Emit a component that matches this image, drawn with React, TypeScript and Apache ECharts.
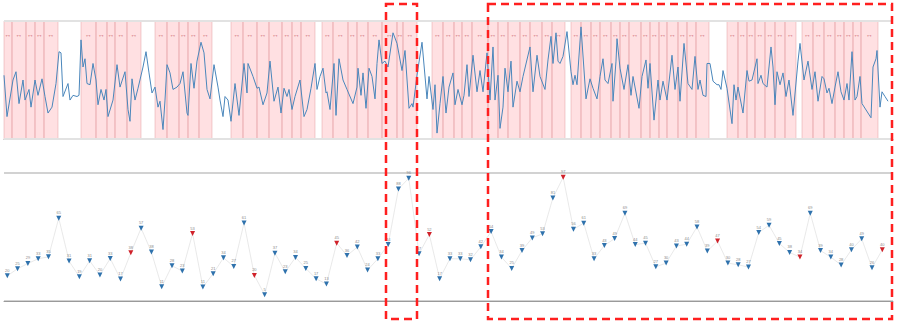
import React, { useEffect, useRef } from "react";
import * as echarts from "echarts";

// ---- top panel: signal (time index, value) ----
const topT = [
  0,3,9,12,15,19,21,25,27,31,34,38,41,44,48,52,55,57,59,64,66,69,73,75,77,79,81,83,86,89,
  92,94,97,100,102,104,109,113,116,121,124,126,128,131,134,139,142,145,148,151,154,156,159,161,163,166,169,173,176,179,
  183,184,187,190,193,197,200,203,206,210,214,216,219,221,224,227,231,235,240,243,244,249,253,255,259,263,266,270,274,277,
  280,283,285,288,291,
  296,300,303,307,311,313,316,319,322,323,326,330,332,335,339,343,349,353,354,357,359,362,365,368,371,373,375,378,381,384,
  389,393,398,401,405,408,409,413,418,423,425,429,431,433,436,439,442,445,449,451,454,458,460,463,465,469,473,476,479,483,
  486,489,491,494,496,499,501,504,507,509,513,516,519,526,529,533,536,541,544,547,549,552,554,556,559,563,567,569,571,573,
  577,582,586,589,593,
  596,599,601,604,608,609,612,613,616,620,624,627,629,635,638,642,644,646,650,654,656,659,663,668,671,674,676,680,684,688,
  691,694,696,699,702,703,706,709,713,715,717,719,723,728,730,732,734,739,743,745,748,753,754,757,759,763,767,769,771,773,
  776,779,782,785,789,794,796,800,804,808,811,814,818,820,823,825,828,831,834,837,840,843,845,848,851,853,856,858,867,869,
  872,873,876,878,881,884,
];
const topV = [
  54,19,50,57,30,50,33,42,27,50,37,51,36,22,27,47,74,73,36,47,33,37,36,37,84,61,68,47,46,64,
  50,29,42,33,42,19,33,63,44,57,25,15,51,33,43,61,74,56,39,44,27,32,8,33,63,56,42,44,47,57,
  22,20,64,43,66,82,73,42,34,63,44,33,19,36,33,15,47,20,64,39,64,53,43,44,29,39,66,32,44,22,
  43,36,42,25,36,
  50,19,25,43,64,42,53,60,39,40,25,64,20,68,50,42,30,44,60,37,56,26,60,53,34,64,84,64,66,61,
  90,81,58,75,26,30,27,54,82,34,53,25,46,5,30,53,22,44,56,29,42,29,37,63,36,71,40,58,40,73,
  33,78,33,54,9,27,60,40,66,27,49,40,53,78,40,71,53,42,67,87,64,90,66,64,70,91,57,46,54,46,
  95,34,51,43,34,
  53,68,50,47,64,32,66,85,60,42,63,37,53,26,53,67,43,64,16,50,33,49,33,71,42,61,32,81,47,42,
  70,42,50,37,36,64,64,49,46,46,42,58,43,13,46,33,44,22,58,49,50,68,47,54,47,44,78,61,29,57,
  46,56,36,50,20,66,81,50,66,42,57,32,53,51,39,43,30,44,57,40,33,47,33,74,33,36,53,30,18,61,
  68,75,27,40,36,32,
];

// highlighted windows (start, end) in the same time index
const windows: number[][] = [
  [0,8],[8,22],[22,31],[31,40],[40,54],
  [77,92],[92,103],[103,111],[111,123],[123,137],
  [151,163],[163,175],[175,184],[184,195],[195,208],
  [227,239],[239,253],[253,265],[265,278],[278,288],[288,297],[297,311],
  [318,329],[329,344],[344,353],[353,364],[364,378],[378,393],[393,399],[399,413],
  [428,439],[439,450],[450,458],[458,468],[468,484],[484,494],[494,504],[504,516],[516,526],[526,538],[538,548],[548,561],
  [567,577],[577,587],[587,596],[596,607],[607,616],[616,625],[625,637],[637,646],[646,655],[655,663],[663,674],[674,683],[683,692],[692,705],
  [723,734],[734,743],[743,751],[751,761],[761,771],[771,781],[781,792],
  [798,809],[809,820],[820,831],[831,840],[840,849],[849,857],[857,874],
];
const windowLabel = "↔";

// ---- bottom panel: per-window scores ----
const scores = [
  19.7,25.2,29.3,33.0,34.5,64.7,31.2,18.9,31.4,20.3,
  33.2,17.1,37.6,56.9,38.2,11.1,27.5,23.4,52.7,10.9,
  21.3,33.7,27.0,61.0,20.0,4.9,37.4,22.8,34.0,25.4,
  17.4,13.2,45.2,35.5,42.1,24.2,33.0,44.1,87.5,95.9,
  36.9,51.9,17.4,33.0,33.0,32.2,42.3,54.2,34.3,25.4,
  39.4,49.3,52.5,80.5,96.6,56.1,60.8,33.0,43.3,48.8,
  68.6,44.1,45.2,26.7,29.6,42.9,44.4,57.9,39.0,46.8,
  29.6,28.3,26.5,53.5,59.2,44.9,37.9,34.3,68.6,39.4,
  34.3,28.1,40.0,48.6,26.0,40.0,
];
const flagged = [12, 18, 24, 32, 41, 54, 69, 77, 85];

export default function App() {
  const ref = useRef<HTMLDivElement>(null);
  useEffect(() => {
    document.body.style.margin = "0";
    const chart = echarts.init(ref.current!, null, { renderer: "svg" });
    const lineData = topT.map((t, i) => [t, topV[i]]);
    const areaData = windows.map(([s, e]) => [{ xAxis: s }, { xAxis: e }]);
    const scoreData = scores.map((v, i) => ({
      value: [i, v],
      itemStyle: { color: flagged.includes(i) ? "#d0222a" : "#2f72ad" },
    }));
    chart.setOption({
      animation: false,
      grid: [
        { left: 4, right: 4, top: 21, bottom: 184 },
        { left: 4, right: 4, top: 173, bottom: 22 },
      ],
      xAxis: [
        {
          gridIndex: 0, type: "value", min: 0, max: 889, position: "top",
          axisLine: { show: true, lineStyle: { color: "#9a9a9a", width: 1 } },
          axisTick: { show: false }, axisLabel: { show: false }, splitLine: { show: false },
        },
        {
          gridIndex: 1, type: "value", min: -0.32, max: 86.04,
          axisLine: { show: true, onZero: false, lineStyle: { color: "#9a9a9a", width: 1 } },
          axisTick: { show: false }, axisLabel: { show: false }, splitLine: { show: false },
        },
      ],
      yAxis: [
        {
          gridIndex: 0, type: "value", min: 0, max: 100, interval: 100, z: 5,
          axisLine: { show: false }, axisTick: { show: false }, axisLabel: { show: false },
          splitLine: { show: true, lineStyle: { color: "#e2e2e2", width: 2 } },
        },
        {
          gridIndex: 1, type: "value", min: 0, max: 100, interval: 100,
          axisLine: { show: false }, axisTick: { show: false }, axisLabel: { show: false },
          splitLine: { show: true, lineStyle: { color: "#d2d2d2", width: 2 } },
        },
      ],
      series: [
        {
          type: "line", xAxisIndex: 0, yAxisIndex: 0, data: lineData,
          showSymbol: false, symbol: "none",
          lineStyle: { color: "#4a86bb", width: 1 },
          markArea: {
            silent: true,
            itemStyle: { color: "rgba(255,170,176,0.36)", borderColor: "rgba(220,140,145,0.4)", borderWidth: 1 },
            label: {
              show: true, position: "insideTop", distance: 10,
              formatter: windowLabel, fontSize: 7, color: "#cf6f77",
            },
            data: areaData,
          },
        },
        {
          type: "line", xAxisIndex: 1, yAxisIndex: 1, data: scoreData,
          symbol: "triangle", symbolRotate: 180, symbolSize: 5, showAllSymbol: true,
          lineStyle: { color: "#e3e3e3", width: 0.8 },
          label: {
            show: true, position: "top", distance: 1, fontSize: 4, color: "#8a8a8a",
            formatter: (p: any) => String(Math.round(p.value[1])),
          },
        },
      ],
      graphic: [
        {
          type: "rect", z: 100, silent: true,
          shape: { x: 386, y: 4, width: 31, height: 315 },
          style: { fill: "none", stroke: "#ff1f1f", lineWidth: 2.5, lineDash: [8, 5] },
        },
        {
          type: "rect", z: 100, silent: true,
          shape: { x: 488, y: 4, width: 404, height: 315 },
          style: { fill: "none", stroke: "#ff1f1f", lineWidth: 2.5, lineDash: [8, 5] },
        },
      ],
    });
    return () => chart.dispose();
  }, []);
  return <div ref={ref} style={{ width: 897, height: 323 }} />;
}
